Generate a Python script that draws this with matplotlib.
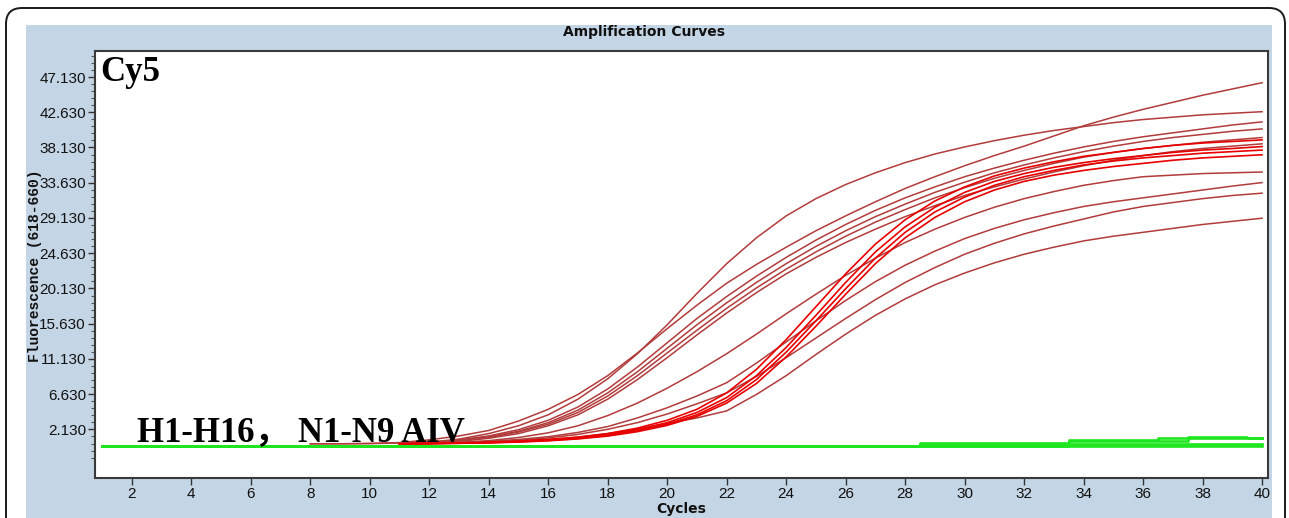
import numpy as np
import matplotlib
matplotlib.use("Agg")
import matplotlib.pyplot as plt
from matplotlib.patches import FancyBboxPatch, Rectangle
from matplotlib.transforms import IdentityTransform
from matplotlib.ticker import FixedLocator

# ---- data (cycle -> fluorescence) ----
cycles = np.arange(1, 41)

# red curves that start at cycle 8
early_start = 8
C1 = [0.3, 0.3, 0.35, 0.45, 0.8, 1.3, 2.0, 3.2, 4.7, 6.6, 9.0, 11.9, 15.0, 18.0, 20.8,
      23.2, 25.4, 27.5, 29.4, 31.2, 32.9, 34.4, 35.8, 37.1, 38.3, 39.6, 40.9, 42.0, 43.0,
      43.9, 44.8, 45.6, 46.4]
C2 = [0.3, 0.3, 0.32, 0.4, 0.5, 0.9, 1.6, 2.6, 4.0, 6.0, 8.6, 11.8, 15.5, 19.5, 23.3,
      26.6, 29.4, 31.6, 33.4, 34.9, 36.2, 37.3, 38.2, 39.0, 39.7, 40.3, 40.8, 41.3, 41.7,
      42.0, 42.3, 42.5, 42.7]

# red curves that start at cycle 11
late_start = 11
B1 = [0.3, 0.5, 0.8, 1.3, 2.1, 3.3, 5.0, 7.3, 10.1, 13.2, 16.3, 19.1, 21.7, 24.1, 26.3,
      28.3, 30.1, 31.7, 33.1, 34.4, 35.5, 36.5, 37.4, 38.2, 38.9, 39.5, 40.0, 40.5, 41.0, 41.4]
B2 = [0.3, 0.45, 0.75, 1.2, 1.9, 3.0, 4.6, 6.8, 9.5, 12.5, 15.5, 18.3, 20.9, 23.3, 25.5,
      27.5, 29.3, 30.9, 32.4, 33.7, 34.9, 35.9, 36.8, 37.6, 38.3, 38.9, 39.4, 39.8, 40.2, 40.5]
B3 = [0.3, 0.4, 0.7, 1.1, 1.8, 2.8, 4.3, 6.4, 9.0, 11.9, 14.8, 17.6, 20.2, 22.6, 24.8,
      26.8, 28.6, 30.2, 31.7, 33.0, 34.2, 35.2, 36.1, 36.9, 37.5, 38.0, 38.4, 38.8, 39.1, 39.4]
B4 = [0.3, 0.4, 0.6, 1.0, 1.6, 2.6, 4.0, 6.0, 8.5, 11.3, 14.2, 17.0, 19.6, 22.0, 24.1,
      26.0, 27.7, 29.3, 30.7, 32.0, 33.1, 34.1, 35.0, 35.8, 36.5, 37.1, 37.6, 38.0, 38.3, 38.6]
M1 = [0.3, 0.35, 0.5, 0.7, 1.1, 1.7, 2.6, 3.9, 5.5, 7.4, 9.5, 11.8, 14.3, 16.9, 19.4,
      21.8, 24.0, 26.0, 27.7, 29.2, 30.5, 31.6, 32.5, 33.3, 33.9, 34.4, 34.6, 34.8, 34.9, 35.0]
T1 = [0.3, 0.35, 0.4, 0.5, 0.65, 0.85, 1.15, 1.6, 2.3, 3.3, 4.7, 6.8, 9.8, 13.6, 17.8,
      22.0, 25.8, 28.9, 31.3, 33.1, 34.5, 35.5, 36.3, 37.0, 37.5, 38.0, 38.4, 38.7, 38.9, 39.1]
T2 = [0.3, 0.33, 0.38, 0.45, 0.58, 0.78, 1.05, 1.45, 2.1, 3.0, 4.3, 6.2, 9.0, 12.6, 16.7,
      20.9, 24.8, 28.0, 30.5, 32.4, 33.8, 34.8, 35.6, 36.2, 36.7, 37.1, 37.5, 37.8, 38.0, 38.25]
T3 = [0.3, 0.33, 0.37, 0.44, 0.55, 0.72, 0.98, 1.35, 1.95, 2.8, 4.0, 5.8, 8.5, 12.0, 16.0,
      20.1, 24.0, 27.3, 29.9, 31.8, 33.3, 34.4, 35.2, 35.9, 36.4, 36.8, 37.1, 37.4, 37.6, 37.8]
T4 = [0.3, 0.32, 0.36, 0.42, 0.52, 0.68, 0.92, 1.28, 1.85, 2.65, 3.8, 5.5, 8.0, 11.4, 15.3,
      19.4, 23.3, 26.6, 29.2, 31.2, 32.7, 33.8, 34.6, 35.2, 35.7, 36.1, 36.5, 36.8, 37.0, 37.2]
L1 = [0.3, 0.35, 0.45, 0.6, 0.85, 1.2, 1.75, 2.5, 3.6, 4.9, 6.4, 8.1, 10.6, 13.3, 16.0,
      18.6, 21.0, 23.1, 24.9, 26.5, 27.8, 28.9, 29.8, 30.6, 31.2, 31.7, 32.2, 32.7, 33.2, 33.65]
L2 = [0.3, 0.34, 0.42, 0.55, 0.75, 1.05, 1.5, 2.15, 3.0, 4.1, 5.4, 6.8, 8.9, 11.3, 13.8,
      16.3, 18.7, 20.9, 22.8, 24.5, 25.9, 27.1, 28.1, 29.0, 29.9, 30.6, 31.1, 31.6, 32.0, 32.3]
L3 = [0.3, 0.33, 0.4, 0.5, 0.65, 0.85, 1.15, 1.6, 2.2, 2.9, 3.6, 4.5, 6.6, 9.0, 11.7,
      14.3, 16.7, 18.8, 20.6, 22.1, 23.4, 24.5, 25.4, 26.2, 26.8, 27.3, 27.8, 28.3, 28.7, 29.1]

dark_curves = [B1, B2, B3, B4, M1, L1, L2, L3]
bright_curves = [T1, T2, T3, T4]

# negative controls (green), cycles 1..40
G1 = [0.0] * 40
G2 = [0.0] * 28 + [0.25] * 12
G3 = [0.0] * 28 + [0.45] * 5 + [0.75] * 3 + [1.0] * 4
G4 = [0.0] * 33 + [0.6] * 3 + [0.7] * 1 + [1.15] * 2 + [1.1] * 1
green_curves = [G1, G2, G3, G4]

y_ticks = [2.13, 6.63, 11.13, 15.63, 20.13, 24.63, 29.13, 33.63, 38.13, 42.63, 47.13]
x_ticks = list(range(2, 41, 2))

# ---- figure ----
W, H = 1289, 518
fig = plt.figure(figsize=(W / 100, H / 100), dpi=100)
fig.patch.set_facecolor("white")

# outer rounded frame and blue panel (pixel coordinates)
frame = FancyBboxPatch((6, -40), 1279, H - 8 + 40, boxstyle="round,pad=0,rounding_size=16",
                       transform=IdentityTransform(), fc="white", ec="#1a1a1a", lw=1.4,
                       zorder=-3)
fig.patches.append(frame)
panel = Rectangle((26, -10), 1246, H - 25 + 10, transform=IdentityTransform(),
                  fc="#C4D5E5", ec="none", zorder=-2)
fig.patches.append(panel)

ax = fig.add_axes([95 / W, (H - 478) / H, (1268 - 95) / W, (478 - 51) / H])
ax.set_facecolor("white")

for c in [C1, C2]:
    ax.plot(cycles[early_start - 1:], c, color="#B23B3B", lw=1.1, zorder=3)
for c in dark_curves:
    ax.plot(cycles[late_start - 1:], c, color="#B23B3B", lw=1.1, zorder=3)
for c in bright_curves:
    ax.plot(cycles[late_start - 1:], c, color="#E80000", lw=1.2, zorder=3)
for g in green_curves:
    ax.plot(cycles, g, color="#1EE61E", lw=1.9, drawstyle="steps-mid", zorder=2)

ax.set_xlim(0.76, 40.2)
ax.set_ylim(-4.07, 50.45)
ax.xaxis.set_major_locator(FixedLocator(x_ticks))
ax.yaxis.set_major_locator(FixedLocator(y_ticks))
ax.yaxis.set_minor_locator(FixedLocator(
    [v + k * 0.9 for v in [-2.37] + y_ticks for k in range(1, 5) if v + k * 0.9 < 50.4]))
ax.set_yticklabels([f"{v:.3f}" for v in y_ticks])
ax.tick_params(axis="both", which="major", length=5, width=1, color="#333333",
               labelsize=11, labelcolor="#111111", pad=1.5)
ax.tick_params(axis="y", which="minor", length=3, width=0.8, color="#555555")
for lab in ax.get_xticklabels() + ax.get_yticklabels():
    lab.set_fontfamily("Liberation Sans")
for s in ax.spines.values():
    s.set_color("#3a3a3a")
    s.set_linewidth(1.5)

fig.text(644 / W, 1 - 32 / H, "Amplification Curves", ha="center", va="center",
         fontsize=10, fontweight="bold", family="DejaVu Sans", color="#111111")
fig.text(681 / W, 1 - 509 / H, "Cycles", ha="center", va="center",
         fontsize=10, fontweight="bold", family="DejaVu Sans", color="#111111")
fig.text(35 / W, 1 - 266 / H, "Fluorescence (618-660)", ha="center", va="center",
         rotation=90, fontsize=10.5, fontweight="bold", family="Liberation Mono",
         color="#111111")

fig.text(100 / W, 1 - 56 / H, "Cy5", ha="left", va="top", fontsize=25,
         fontweight="bold", family="Liberation Serif", color="black")
fig.text(137 / W, 1 - 441 / H, "H1-H16， N1-N9 AIV", ha="left", va="baseline",
         fontsize=25, fontweight="bold", family=["Liberation Serif", "Noto Sans CJK SC"],
         color="black", zorder=5)

fig.savefig("out.png", dpi=100)
